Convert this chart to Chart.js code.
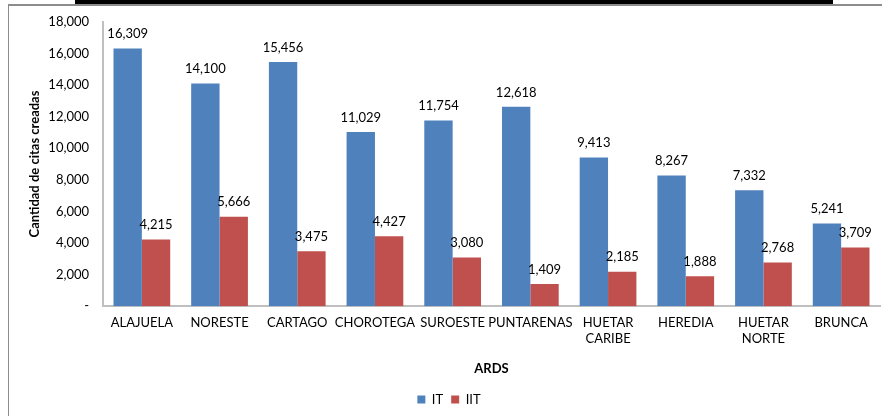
<!DOCTYPE html>
<html>
<head>
<meta charset="utf-8">
<script src="https://cdn.jsdelivr.net/npm/chart.js@4/dist/chart.umd.min.js"></script>
<style>
  html, body { margin: 0; padding: 0; background: #fff; }
  #wrap { position: relative; width: 882px; height: 416px; }
  #frame { position: absolute; left: 8px; top: 4px; width: 880px; height: 420px;
           border-left: 1px solid #8c8c8c; border-top: 2px solid #8c8c8c; }
  #bar { position: absolute; left: 75px; top: 0; width: 758px; height: 4px; background: #000; }
  canvas { position: absolute; left: 0; top: 0; }
</style>
</head>
<body>
<div id="wrap">
  <div id="frame"></div>
  <div id="bar"></div>
  <canvas id="chart" width="882" height="416"></canvas>
</div>
<script>
const categories = ["ALAJUELA", "NORESTE", "CARTAGO", "CHOROTEGA", "SUROESTE", "PUNTARENAS",
  ["HUETAR", "CARIBE"], "HEREDIA", ["HUETAR", "NORTE"], "BRUNCA"];
const itValues = [16309, 14100, 15456, 11029, 11754, 12618, 9413, 8267, 7332, 5241];
const iitValues = [4215, 5666, 3475, 4427, 3080, 1409, 2185, 1888, 2768, 3709];
const yTicks = [0, 2000, 4000, 6000, 8000, 10000, 12000, 14000, 16000, 18000];

const FONT = "Lato, 'Liberation Sans', sans-serif";
const fmt = v => v === 0 ? "-" : v.toLocaleString("en-US");

// value labels above each bar
const barLabels = {
  id: "barLabels",
  afterDatasetsDraw(chart) {
    const ctx = chart.ctx;
    ctx.save();
    ctx.font = "13px " + FONT;
    ctx.fillStyle = "#000";
    ctx.textAlign = "center";
    ctx.textBaseline = "bottom";
    chart.data.datasets.forEach((ds, i) => {
      chart.getDatasetMeta(i).data.forEach((bar, j) => {
        ctx.fillText(fmt(ds.data[j]), bar.x, bar.y - 8);
      });
    });
    ctx.restore();
  }
};

new Chart(document.getElementById("chart"), {
  type: "bar",
  data: {
    labels: categories,
    datasets: [
      { label: "IT", data: itValues, backgroundColor: "#4f81bd" },
      { label: "IIT", data: iitValues, backgroundColor: "#c0504d" }
    ]
  },
  options: {
    responsive: false,
    animation: false,
    layout: { padding: { left: 18, right: 2, top: 13, bottom: 0 } },
    datasets: { bar: { categoryPercentage: 0.73, barPercentage: 1 } },
    scales: {
      x: {
        grid: { display: false, drawTicks: false },
        border: { color: "#bfbfbf", width: 2 },
        ticks: { color: "#000", font: { family: FONT, size: 13 }, maxRotation: 0, autoSkip: false, padding: 9 },
        title: { display: true, text: "ARDS", color: "#000", font: { family: FONT, size: 13, weight: "bold" }, padding: { top: 6, bottom: 8 } }
      },
      y: {
        min: 0,
        max: 18000,
        afterBuildTicks: axis => { axis.ticks = yTicks.map(v => ({ value: v })); },
        afterFit: axis => { axis.width = 85; },
        grid: { display: false, drawTicks: false },
        border: { color: "#bfbfbf", width: 2 },
        ticks: { color: "#000", font: { family: FONT, size: 13 }, padding: 14, callback: v => fmt(v) },
        title: { display: true, text: "Cantidad de citas creadas", color: "#000", font: { family: FONT, size: 13, weight: "bold" }, padding: { top: 9, bottom: 0 } }
      }
    },
    plugins: {
      legend: {
        position: "bottom",
        labels: { color: "#000", font: { family: FONT, size: 13 }, boxWidth: 8, boxHeight: 8, padding: 8 }
      },
      tooltip: { enabled: false }
    }
  },
  plugins: [barLabels]
});
</script>
</body>
</html>
